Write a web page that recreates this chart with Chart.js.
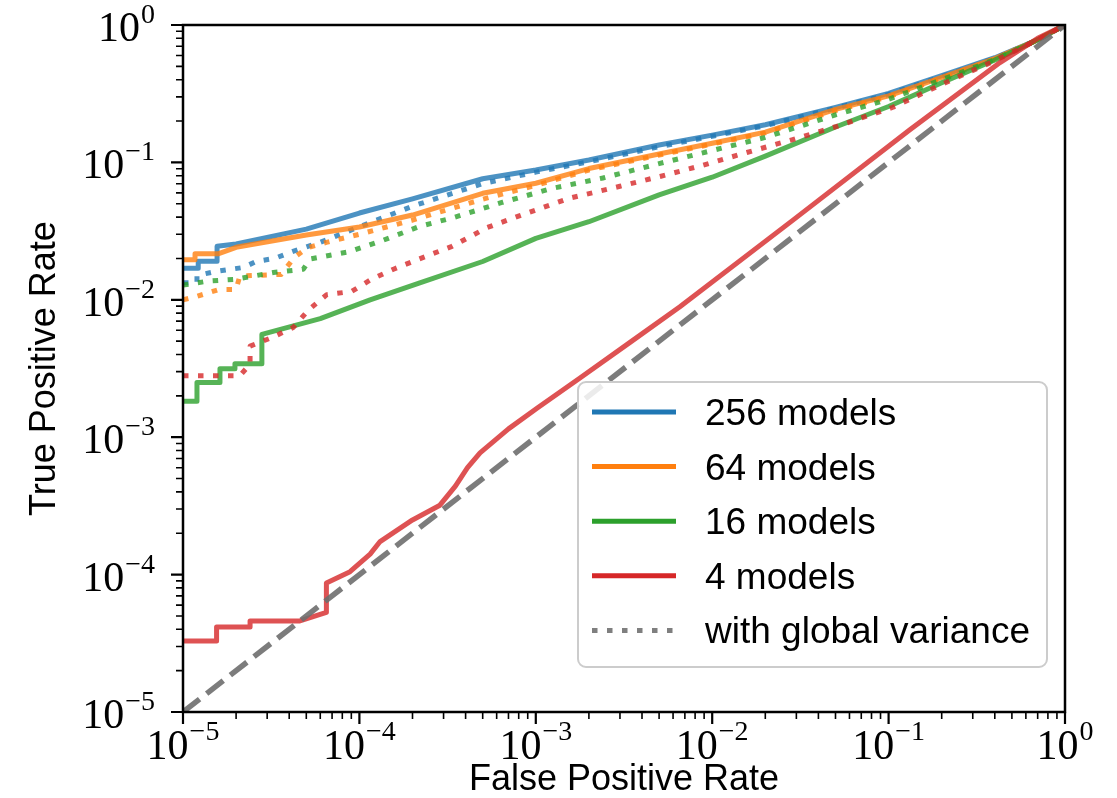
<!DOCTYPE html>
<html>
<head>
<meta charset="utf-8">
<script src="https://cdn.jsdelivr.net/npm/chart.js@4.4.0/dist/chart.umd.min.js"></script>
<style>
  html, body { margin: 0; padding: 0; background: #fff; }
  #wrap { width: 1117px; height: 798px; }
</style>
</head>
<body>
<div id="wrap"><canvas id="rocChart" width="1117" height="798"></canvas></div>
<script>
// values: false positive rate (x) / true positive rate (y)
const fpr256 = [1e-5, 1.22e-5, 1.22e-5, 1.56e-5, 1.56e-5, 2e-5, 5e-5, 1e-4, 2e-4, 5e-4, 1e-3, 2e-3, 5e-3, 1e-2, 2e-2, 5e-2, 0.1, 0.2, 0.4, 0.7, 1];
const tpr256 = [0.0170, 0.0170, 0.0191, 0.0191, 0.0245, 0.0255, 0.0327, 0.0428, 0.0542, 0.076, 0.088, 0.104, 0.134, 0.158, 0.188, 0.251, 0.318, 0.428, 0.578, 0.78, 1];

const fpr64 = [1e-5, 1.17e-5, 1.17e-5, 1.58e-5, 2e-5, 5e-5, 1e-4, 2e-4, 5e-4, 1e-3, 2e-3, 5e-3, 1e-2, 2e-2, 5e-2, 0.1, 0.2, 0.4, 0.7, 1];
const tpr64 = [0.0196, 0.0196, 0.0216, 0.0216, 0.0241, 0.0296, 0.0339, 0.0414, 0.0596, 0.0705, 0.0902, 0.115, 0.138, 0.166, 0.243, 0.305, 0.415, 0.57, 0.78, 1];

const fpr16 = [1e-5, 1.2e-5, 1.2e-5, 1.62e-5, 1.62e-5, 1.97e-5, 1.97e-5, 2.8e-5, 2.8e-5, 6e-5, 1.15e-4, 2.2e-4, 5e-4, 1e-3, 2e-3, 5e-3, 1e-2, 2e-2, 5e-2, 0.1, 0.2, 0.4, 0.7, 1];
const tpr16 = [1.83e-3, 1.83e-3, 2.5e-3, 2.5e-3, 3.15e-3, 3.15e-3, 3.43e-3, 3.43e-3, 5.6e-3, 7.3e-3, 1.0e-2, 1.33e-2, 1.9e-2, 0.028, 0.037, 0.058, 0.078, 0.111, 0.181, 0.255, 0.38, 0.556, 0.78, 1];

const fpr4 = [1e-5, 1.55e-5, 1.55e-5, 2.4e-5, 2.4e-5, 4.6e-5, 6.5e-5, 6.5e-5, 8.85e-5, 1.15e-4, 1.31e-4, 2.0e-4, 2.86e-4, 3.5e-4, 4.1e-4, 4.83e-4, 7e-4, 1.02e-3, 1.78e-3, 3.5e-3, 6.56e-3, 2.87e-2, 0.132, 0.428, 0.7, 1];
const tpr4 = [3.29e-5, 3.29e-5, 4.16e-5, 4.16e-5, 4.6e-5, 4.6e-5, 5.3e-5, 8.7e-5, 1.05e-4, 1.41e-4, 1.74e-4, 2.5e-4, 3.2e-4, 4.4e-4, 6.0e-4, 7.7e-4, 1.15e-3, 1.63e-3, 2.7e-3, 5.0e-3, 8.9e-3, 3.8e-2, 0.173, 0.533, 0.8, 1];

// "with global variance" runs
const fpr256g = [1e-5, 1.2e-5, 1.2e-5, 1.5e-5, 2.2e-5, 2.6e-5, 3.3e-5, 4.2e-5, 6e-5, 1e-4, 2e-4, 5e-4, 1e-3, 2e-3, 5e-3, 1e-2, 2e-2, 5e-2, 0.1, 0.2, 0.4, 0.7, 1];
const tpr256g = [0.0133, 0.0133, 0.0150, 0.0160, 0.0172, 0.0190, 0.0200, 0.0225, 0.0262, 0.034, 0.048, 0.070, 0.085, 0.101, 0.13, 0.155, 0.185, 0.248, 0.312, 0.42, 0.572, 0.78, 1];

const fpr64g = [1e-5, 1.2e-5, 1.6e-5, 2.0e-5, 2.1e-5, 3.6e-5, 4.3e-5, 5.1e-5, 6.5e-5, 1e-4, 2e-4, 5e-4, 1e-3, 2e-3, 5e-3, 1e-2, 2e-2, 5e-2, 0.1, 0.2, 0.4, 0.7, 1];
const tpr64g = [0.0100, 0.0106, 0.0119, 0.0119, 0.0149, 0.0153, 0.0205, 0.0240, 0.0262, 0.0300, 0.0380, 0.054, 0.068, 0.088, 0.113, 0.136, 0.164, 0.238, 0.300, 0.41, 0.565, 0.78, 1];

const fpr16g = [1e-5, 1.4e-5, 1.97e-5, 3.25e-5, 4.81e-5, 5.25e-5, 8.65e-5, 1.37e-4, 2.21e-4, 3.4e-4, 6.5e-4, 1.25e-3, 2.4e-3, 5e-3, 1e-2, 2e-2, 5e-2, 0.1, 0.2, 0.4, 0.7, 1];
const tpr16g = [0.0128, 0.0137, 0.0141, 0.0158, 0.0167, 0.0198, 0.0223, 0.0272, 0.0343, 0.0396, 0.0513, 0.0649, 0.077, 0.098, 0.122, 0.152, 0.222, 0.288, 0.40, 0.56, 0.78, 1];

const fpr4g = [1e-5, 2.1e-5, 2.4e-5, 2.4e-5, 3.18e-5, 4.22e-5, 5.13e-5, 6.53e-5, 9.04e-5, 1.17e-4, 1.56e-4, 2.11e-4, 3.35e-4, 5.28e-4, 8.13e-4, 1.56e-3, 3.0e-3, 5.06e-3, 8.75e-3, 1.57e-2, 2.83e-2, 5.09e-2, 0.106, 0.2, 0.4, 0.7, 1];
const tpr4g = [2.8e-3, 2.8e-3, 3.4e-3, 4.6e-3, 5.3e-3, 6.3e-3, 8.4e-3, 1.09e-2, 1.15e-2, 1.41e-2, 1.67e-2, 1.95e-2, 2.45e-2, 3.35e-2, 4.1e-2, 5.5e-2, 6.7e-2, 7.9e-2, 9.5e-2, 0.118, 0.146, 0.183, 0.252, 0.37, 0.55, 0.78, 1];

// chance line
const fprDiag = [1e-5, 1];
const tprDiag = [1e-5, 1];

const tickExponents = [-5, -4, -3, -2, -1, 0];
const minorSteps = [2, 3, 4, 5, 6, 7, 8, 9];
const legendLabels = ['256 models', '64 models', '16 models', '4 models', 'with global variance'];
const xTitle = 'False Positive Rate';
const yTitle = 'True Positive Rate';

const colors = ['#1f77b4', '#ff7f0e', '#2ca02c', '#d62728'];
const fade = ['rgba(31,119,180,0.8)', 'rgba(255,127,14,0.8)', 'rgba(44,160,44,0.8)', 'rgba(214,39,40,0.8)'];

function pts(xs, ys) {
    return xs.map((x, i) => ({ x: x, y: ys[i] }));
}

function line(xs, ys, color, dotted, order) {
    return {
        data: pts(xs, ys),
        borderColor: color,
        borderWidth: 5,
        borderDash: dotted ? [5.5, 9.5] : [],
        borderCapStyle: 'butt',
        borderJoinStyle: 'round',
        pointRadius: 0,
        tension: 0,
        fill: false,
        order: order
    };
}

function expText(e) {
    return e < 0 ? '\u2212' + (-e) : String(e);
}

// spines, ticks and tick labels drawn from the scales
const axesPlugin = {
    id: 'axesPlugin',
    afterDatasetsDraw(chart) {
        const ctx = chart.ctx;
        const a = chart.chartArea;
        const xs = chart.scales.x;
        const ys = chart.scales.y;
        ctx.save();
        ctx.strokeStyle = '#000';
        ctx.lineCap = 'butt';

        tickExponents.forEach(e => {
            const base = Math.pow(10, e);
            // major
            let px = xs.getPixelForValue(base);
            let py = ys.getPixelForValue(base);
            ctx.lineWidth = 2.2;
            ctx.beginPath();
            ctx.moveTo(px, a.bottom); ctx.lineTo(px, a.bottom + 12);
            ctx.moveTo(a.left, py); ctx.lineTo(a.left - 12, py);
            ctx.stroke();
            if (e === 0) return;
            ctx.lineWidth = 1.6;
            ctx.beginPath();
            minorSteps.forEach(m => {
                const v = m * base;
                const mx = xs.getPixelForValue(v);
                const my = ys.getPixelForValue(v);
                ctx.moveTo(mx, a.bottom); ctx.lineTo(mx, a.bottom + 7);
                ctx.moveTo(a.left, my); ctx.lineTo(a.left - 7, my);
            });
            ctx.stroke();
        });

        ctx.lineWidth = 2.5;
        ctx.strokeRect(a.left, a.top, a.right - a.left, a.bottom - a.top);

        // tick labels: 10 with a raised exponent
        ctx.fillStyle = '#000';
        ctx.textBaseline = 'alphabetic';
        const mainFont = '42px "Liberation Serif", "DejaVu Serif", serif';
        const supFont = '28px "Liberation Serif", "DejaVu Serif", serif';
        tickExponents.forEach(e => {
            const v = Math.pow(10, e);
            const sup = expText(e);
            ctx.font = mainFont;
            const wMain = ctx.measureText('10').width;
            ctx.font = supFont;
            const wSup = ctx.measureText(sup).width;

            // x axis
            const px = xs.getPixelForValue(v);
            const left = px - (wMain + 1 + wSup) / 2;
            ctx.textAlign = 'left';
            ctx.font = mainFont;
            ctx.fillText('10', left, a.bottom + 47);
            ctx.font = supFont;
            ctx.fillText(sup, left + wMain + 1, a.bottom + 28);

            // y axis
            const py = ys.getPixelForValue(v);
            const right = a.left - 28;
            ctx.textAlign = 'right';
            ctx.font = supFont;
            ctx.fillText(sup, right, py - 2);
            ctx.font = mainFont;
            ctx.fillText('10', right - wSup - 1, py + 16);
        });

        // axis titles
        ctx.font = '36px "Liberation Sans", Arial, sans-serif';
        ctx.textAlign = 'center';
        ctx.fillText(xTitle, (a.left + a.right) / 2, 790);
        ctx.save();
        ctx.translate(55, (a.top + a.bottom) / 2);
        ctx.rotate(-Math.PI / 2);
        ctx.fillText(yTitle, 0, 0);
        ctx.restore();
        ctx.restore();
    },
    afterDraw(chart) {
        const ctx = chart.ctx;
        const a = chart.chartArea;
        const w = 469, h = 285, r = 8;
        const x0 = a.right - 18 - w;
        const y0 = a.bottom - 45 - h;
        ctx.save();
        ctx.beginPath();
        ctx.moveTo(x0 + r, y0);
        ctx.arcTo(x0 + w, y0, x0 + w, y0 + h, r);
        ctx.arcTo(x0 + w, y0 + h, x0, y0 + h, r);
        ctx.arcTo(x0, y0 + h, x0, y0, r);
        ctx.arcTo(x0, y0, x0 + w, y0, r);
        ctx.closePath();
        ctx.fillStyle = 'rgba(255,255,255,0.85)';
        ctx.fill();
        ctx.strokeStyle = '#cccccc';
        ctx.lineWidth = 2;
        ctx.stroke();

        ctx.font = '37px "Liberation Sans", Arial, sans-serif';
        ctx.textAlign = 'left';
        ctx.textBaseline = 'alphabetic';
        legendLabels.forEach((label, i) => {
            const ry = y0 + 30 + i * 54.6;
            ctx.beginPath();
            ctx.lineWidth = 5;
            if (i < 4) {
                ctx.strokeStyle = colors[i];
                ctx.setLineDash([]);
            } else {
                ctx.strokeStyle = '#7f7f7f';
                ctx.setLineDash([5.5, 9.5]);
            }
            ctx.moveTo(x0 + 14, ry);
            ctx.lineTo(x0 + 98, ry);
            ctx.stroke();
            ctx.setLineDash([]);
            ctx.fillStyle = '#000';
            ctx.fillText(label, x0 + 127, ry + 13);
        });
        ctx.restore();
    }
};

const ctx = document.getElementById('rocChart').getContext('2d');
const diag = line(fprDiag, tprDiag, 'rgba(110,110,110,0.9)', false, 0);
diag.borderDash = [21, 9];
diag.borderWidth = 5.5;

new Chart(ctx, {
    type: 'line',
    data: {
        datasets: [
            diag,
            line(fpr4g, tpr4g, fade[3], true, 1),
            line(fpr4, tpr4, fade[3], false, 2),
            line(fpr16g, tpr16g, fade[2], true, 3),
            line(fpr16, tpr16, fade[2], false, 4),
            line(fpr64g, tpr64g, fade[1], true, 5),
            line(fpr64, tpr64, fade[1], false, 6),
            line(fpr256g, tpr256g, fade[0], true, 7),
            line(fpr256, tpr256, fade[0], false, 8)
        ]
    },
    options: {
        responsive: false,
        devicePixelRatio: 1,
        animation: false,
        events: [],
        layout: { padding: { top: 25, right: 52, left: 0, bottom: 0 } },
        scales: {
            x: {
                type: 'logarithmic',
                position: 'bottom',
                min: 1e-5,
                max: 1,
                grid: { display: false },
                border: { display: false },
                ticks: { display: false },
                afterFit: s => { s.height = 86; }
            },
            y: {
                type: 'logarithmic',
                position: 'left',
                min: 1e-5,
                max: 1,
                grid: { display: false },
                border: { display: false },
                ticks: { display: false },
                afterFit: s => { s.width = 183; }
            }
        },
        plugins: {
            legend: { display: false },
            tooltip: { enabled: false }
        }
    },
    plugins: [axesPlugin]
});
</script>
</body>
</html>
